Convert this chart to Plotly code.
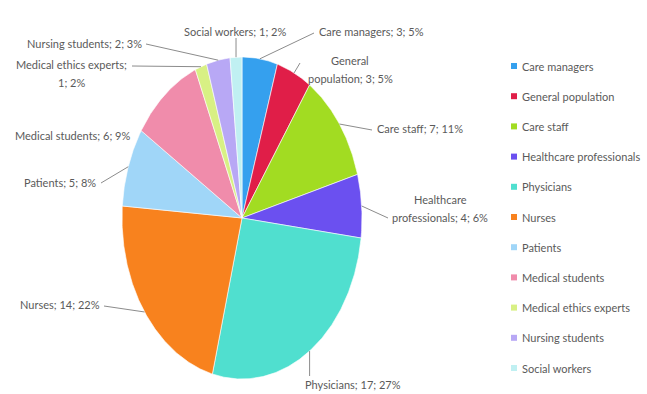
import numpy as np
import plotly.graph_objects as go

# Respondent groups, counts and the rounded shares printed on the labels
categories = ["Care managers", "General population", "Care staff", "Healthcare professionals",
              "Physicians", "Nurses", "Patients", "Medical students",
              "Medical ethics experts", "Nursing students", "Social workers"]
counts = [3, 3, 7, 4, 17, 14, 5, 6, 1, 2, 1]
shares = [5, 5, 11, 6, 27, 22, 8, 9, 2, 3, 2]
colors = ["#35a0ee", "#e01e48", "#a2dc22", "#6b50f0", "#50dfcf", "#f8821e",
          "#a0d6f8", "#f08cab", "#d8f084", "#b8a8f5", "#c0f0f2"]

# Pixel-space canvas; the pie is drawn as an ellipse
W, H = 647, 394
CX, CY, RX, RY = 242, 218, 120, 161

FONT = dict(family="Liberation Sans Narrow, Arial Narrow, Lato, sans-serif", size=11, color="#5a5a5a")


def ellipse_point(theta_deg):
    t = np.radians(theta_deg)
    return CX + RX * np.sin(t), CY - RY * np.cos(t)


total = sum(counts)
cum = np.concatenate([[0], np.cumsum(counts)]) / total * 360.0

fig = go.Figure()

# Wedges (clockwise from 12 o'clock)
for i, name in enumerate(categories):
    a0, a1 = cum[i], cum[i + 1]
    ang = np.linspace(a0, a1, max(8, int((a1 - a0) * 2)))
    pts = [ellipse_point(a) for a in ang]
    xs = [CX] + [p[0] for p in pts] + [CX]
    ys = [CY] + [p[1] for p in pts] + [CY]
    fig.add_trace(go.Scatter(x=xs, y=ys, mode="lines", fill="toself",
                             fillcolor=colors[i], line=dict(color="white", width=0.6),
                             hoverinfo="text", text=f"{name}: {counts[i]}", showlegend=False))

# Label placement: (text lines, x, y per line, anchor, leader end point or None)
label_layout = {
    "Care managers": ([f"Care managers; {counts[0]}; {shares[0]}%"], 317, [31], "left", (314, 33)),
    "General population": (["General", f"population; {counts[1]}; {shares[1]}%"], 350, [60, 78], "center", (300, 63)),
    "Care staff": ([f"Care staff; {counts[2]}; {shares[2]}%"], 375, [128], "left", (372, 130)),
    "Healthcare professionals": (["Healthcare", f"professionals; {counts[3]}; {shares[3]}%"], 440, [199, 217], "center", (388, 218)),
    "Physicians": ([f"Physicians; {counts[4]}; {shares[4]}%"], 303, [384], "left", None),
    "Nurses": ([f"Nurses; {counts[5]}; {shares[5]}%"], 102, [304], "right", (104, 306)),
    "Patients": ([f"Patients; {counts[6]}; {shares[6]}%"], 98, [182], "right", (101, 183)),
    "Medical students": ([f"Medical students; {counts[7]}; {shares[7]}%"], 133, [135], "right", None),
    "Medical ethics experts": (["Medical ethics experts;", f"{counts[8]}; {shares[8]}%"], 71, [64, 82], "center", (132, 66)),
    "Nursing students": ([f"Nursing students; {counts[9]}; {shares[9]}%"], 144, [43], "right", (146, 44)),
    "Social workers": ([f"Social workers; {counts[10]}; {shares[10]}%"], 235, [31], "center", None),
}

annotations = []
for i, name in enumerate(categories):
    lines, lx, lys, anchor, lead = label_layout[name]
    for txt, ly in zip(lines, lys):
        annotations.append(dict(x=lx, y=ly, xref="x", yref="y", text=txt, showarrow=False,
                                xanchor=anchor, yanchor="middle", font=FONT))
    mid = (cum[i] + cum[i + 1]) / 2
    px, py = ellipse_point(mid)
    if name == "Physicians":
        lead = (px, 376)
    elif name == "Social workers":
        lead = (px, 38)
    if lead is not None:
        fig.add_trace(go.Scatter(x=[px, lead[0]], y=[py, lead[1]], mode="lines",
                                 line=dict(color="#8c8c8c", width=1),
                                 hoverinfo="skip", showlegend=False))

# Legend column on the right
LEG_X, LEG_Y0, LEG_DY = 514, 66, 30.2
leg_y = [LEG_Y0 + LEG_DY * i for i in range(len(categories))]
fig.add_trace(go.Scatter(x=[LEG_X] * len(categories), y=leg_y, mode="markers",
                         marker=dict(symbol="square", size=6, color=colors, line=dict(width=0)),
                         hoverinfo="skip", showlegend=False))
for name, y in zip(categories, leg_y):
    annotations.append(dict(x=LEG_X + 6, y=y, xref="x", yref="y", text=name, showarrow=False,
                            xanchor="left", yanchor="middle", font=FONT))

fig.update_layout(
    width=W, height=H,
    margin=dict(l=0, r=0, t=0, b=0),
    paper_bgcolor="white", plot_bgcolor="white",
    xaxis=dict(range=[0, W], visible=False, fixedrange=True),
    yaxis=dict(range=[H, 0], visible=False, fixedrange=True),
    annotations=annotations,
    showlegend=False,
)

fig.write_html("out.html")
